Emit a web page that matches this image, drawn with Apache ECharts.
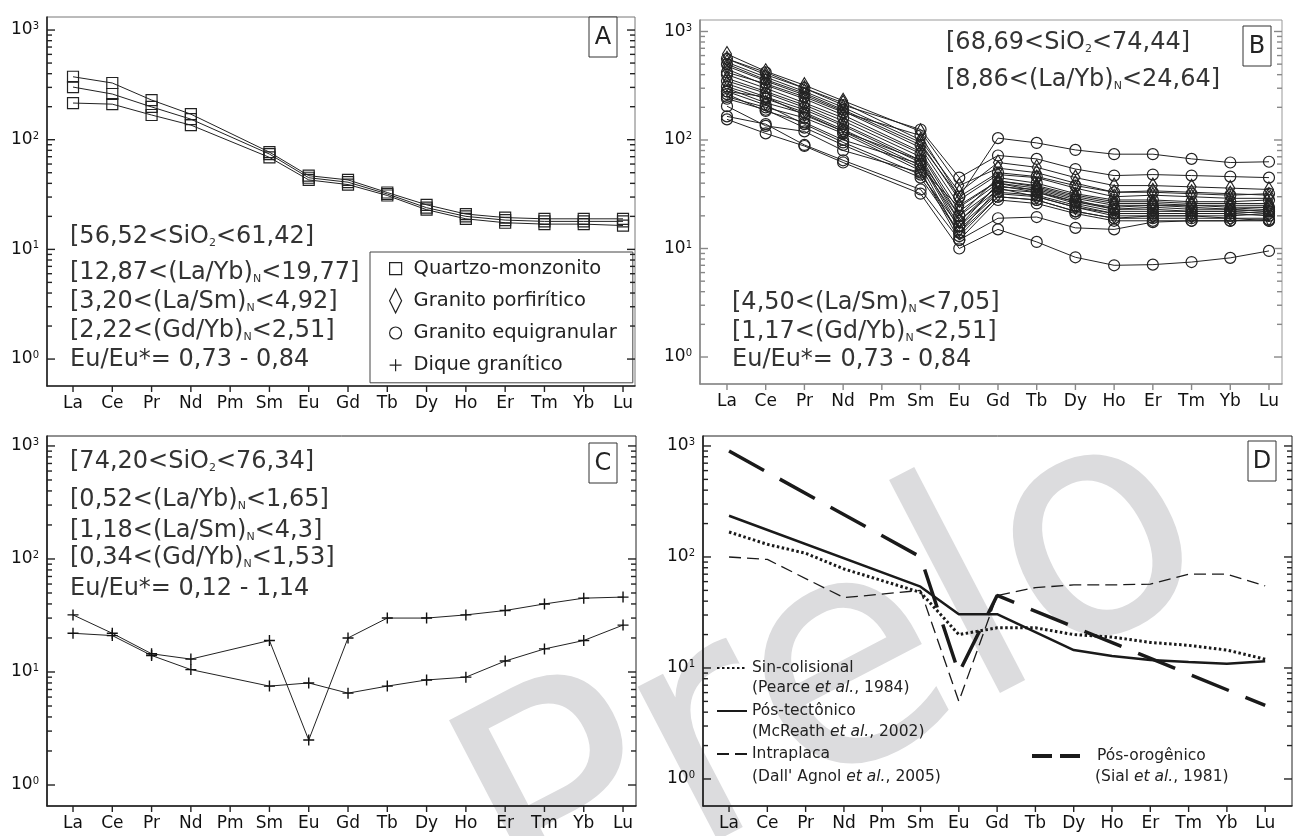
<!DOCTYPE html>
<html>
<head>
<meta charset="utf-8">
<script src="https://cdn.jsdelivr.net/npm/echarts@6/dist/echarts.min.js"></script>
<style>
html, body { margin: 0; padding: 0; background: #fff; }
#main { width: 1308px; height: 836px; }
</style>
</head>
<body>
<div id="main"></div>
<script>
var FONT = 'DejaVu Sans';

// rare earth elements on the x axis
var elements = ['La', 'Ce', 'Pr', 'Nd', 'Pm', 'Sm', 'Eu', 'Gd', 'Tb', 'Dy', 'Ho', 'Er', 'Tm', 'Yb', 'Lu'];
var elementTicks = elements.map(function (e, i) { return i; });
var majorTicks = [1, 10, 100, 1000];
var minorTicks = [2, 3, 4, 5, 6, 7, 8, 9, 20, 30, 40, 50, 60, 70, 80, 90, 200, 300, 400, 500, 600, 700, 800, 900];

// A - quartzo-monzonito
var quartzoMonzonito = [
  [375, 329, 230, 171, null, 77, 47, 43, 33, 25.5, 21, 19.5, 19, 19, 19],
  [302, 261, 199, 154, null, 74, 45, 41, 32, 24, 20, 18.5, 18, 18, 18],
  [216, 211, 168, 136, null, 69, 43, 39, 31, 23, 19, 17.5, 17, 17, 16.5]
];

// B - granito porfiritico (diamonds) and granito equigranular (circles)
var granitoPorfiritico = [
  [620, 430, 320, 230, null, 120, 38, 55, 50, 40, 33, 34, 33, 32, 31],
  [560, 400, 300, 220, null, 100, 33, 62, 56, 45, 38, 38, 37, 36, 35],
  [520, 380, 280, 200, null, 95, 28, 48, 45, 36, 30, 31, 30, 29, 29],
  [480, 350, 260, 185, null, 85, 25, 42, 38, 31, 27, 27, 26, 26, 26],
  [450, 320, 240, 170, null, 78, 22, 40, 36, 29, 25, 25, 25, 24, 24],
  [370, 280, 210, 150, null, 70, 18, 35, 33, 26, 22, 22, 22, 22, 21],
  [330, 250, 190, 135, null, 62, 15, 32, 30, 24, 20, 20, 20, 19, 19],
  [300, 220, 175, 120, null, 55, 24, 42, 37, 30, 26, 26, 25, 25, 25]
];
var granitoEquigranular = [
  [420, 330, 250, 180, null, 110, 30, 104, 94, 81, 74, 74, 67, 62, 63],
  [560, 420, 300, 210, null, 125, 45, 72, 67, 54, 47, 48, 47, 46, 45],
  [155, 115, 88, 62, null, 32, 10, 15, 11.5, 8.3, 7, 7.1, 7.5, 8.2, 9.5],
  [165, 140, 90, 65, null, 35, 12, 19, 19.5, 15.5, 15, 17.5, 18, 18, 18.5],
  [205, 135, 120, 80, null, 50, 14, 30, 28, 22, 19, 20, 20, 20, 21],
  [265, 185, 145, 100, null, 60, 18, 38, 33, 27, 24, 25, 24, 23, 24],
  [280, 250, 170, 120, null, 65, 20, 45, 40, 32, 28, 28, 27, 27, 28],
  [400, 300, 220, 160, null, 75, 20, 37, 35, 28, 23, 24, 23, 23, 22],
  [350, 270, 200, 140, null, 65, 16, 33, 31, 25, 21, 21, 21, 21, 20],
  [310, 240, 180, 125, null, 58, 13, 30, 28, 22, 19, 19, 19, 19, 18],
  [250, 200, 160, 115, null, 52, 12, 28, 26, 21, 18, 18, 18, 18, 18],
  [500, 360, 270, 190, null, 90, 30, 50, 46, 38, 33, 33, 32, 31, 32],
  [280, 210, 140, 95, null, 48, 16, 40, 34, 27, 23, 23, 22, 22, 23],
  [240, 190, 130, 90, null, 45, 14, 36, 30, 24, 21, 21, 21, 21, 22]
];

// C - dique granitico
var diqueGranitico = [
  [32, 22, 14.5, 13, null, 19, 2.5, 20, 30, 30, 32, 35, 40, 45, 46],
  [22, 21, 14, 10.5, null, 7.5, 8, 6.5, 7.5, 8.5, 9, 12.5, 16, 19, 26]
];

// D - reference patterns
var sinColisional = [168, 130, 108, 78, null, 48, 20, 23, 23, 20, 19, 17, 16, 14.5, 12];
var posTectonico = [235, null, null, null, null, 54, 30.5, 30.5, null, 14.5, 12.8, 11.8, 11.3, 10.9, 11.5];
var intraplaca = [100, 95, null, 43, null, 50, 5, 45, 53, 56, 56, 57, 70, 70, 55];
var posOrogenico = [900, null, null, null, null, 100, 9, 45, null, null, null, null, null, null, 4.6];

var notesA = ['[56,52<SiO{s|2}<61,42]', '[12,87<(La/Yb){s|N}<19,77]', '[3,20<(La/Sm){s|N}<4,92]', '[2,22<(Gd/Yb){s|N}<2,51]', 'Eu/Eu*= 0,73 - 0,84'];
var notesBTop = ['[68,69<SiO{s|2}<74,44]', '[8,86<(La/Yb){s|N}<24,64]'];
var notesBBottom = ['[4,50<(La/Sm){s|N}<7,05]', '[1,17<(Gd/Yb){s|N}<2,51]', 'Eu/Eu*= 0,73 - 0,84'];
var notesC = ['[74,20<SiO{s|2}<76,34]', '[0,52<(La/Yb){s|N}<1,65]', '[1,18<(La/Sm){s|N}<4,3]', '[0,34<(Gd/Yb){s|N}<1,53]', 'Eu/Eu*= 0,12 - 1,14'];
var refsD = ['(Pearce {i|et al.}, 1984)', '(McReath {i|et al.}, 2002)', "(Dall' Agnol {i|et al.}, 2005)", '(Sial {i|et al.}, 1981)'];

var chart = echarts.init(document.getElementById('main'));

// panel boxes: left, top, width, height, x range, y range, frame colour
var panels = [
  { rect: [47, 17, 588, 369], x: [-0.662, 14.305], y: [0.568, 1315], frame: '#777', axis: '#222' },
  { rect: [700, 20, 582, 364], x: [-0.697, 14.336], y: [0.564, 1276], frame: '#999', axis: '#888' },
  { rect: [47, 436, 589, 370], x: [-0.662, 14.33], y: [0.652, 1225], frame: '#222', axis: '#222' },
  { rect: [703, 436, 589, 370], x: [-0.68, 14.7], y: [0.571, 1230], frame: '#222', axis: '#222' }
];

var grids = [], xAxes = [], yAxes = [], series = [];

panels.forEach(function (p, gi) {
  grids.push({
    left: p.rect[0], top: p.rect[1], width: p.rect[2], height: p.rect[3],
    show: true, borderColor: p.frame, borderWidth: 1
  });
  xAxes.push({
    gridIndex: gi, type: 'value', min: p.x[0], max: p.x[1],
    axisLine: { show: true, onZero: false, lineStyle: { color: p.axis, width: 1.6 } },
    axisTick: { show: false },
    axisLabel: {
      customValues: elementTicks, margin: 9, color: '#111', fontSize: 17, fontFamily: FONT,
      formatter: function (v) { return elements[Math.round(v)]; }
    },
    splitLine: { show: false }
  });
  yAxes.push({
    gridIndex: gi, type: 'log', logBase: 10, min: p.y[0], max: p.y[1], position: 'left',
    splitLine: { show: false },
    axisLine: { show: true, onZero: false, lineStyle: { color: p.axis, width: 1.6 } },
    axisTick: { show: false },
    axisLabel: {
      show: true, customValues: majorTicks, margin: 8, color: '#111', fontSize: 17, fontFamily: FONT,
      formatter: function (v) { return '10{e|' + Math.round(Math.log(v) / Math.LN10) + '}'; },
      rich: { e: { fontSize: 10, fontFamily: FONT, color: '#111', verticalAlign: 'top', padding: [0, 0, 6, 0] } }
    }
  });

  // tick marks on both vertical edges (pointing in) and under the bottom edge
  var yTicks = majorTicks.map(function (v) { return [0, v, 8]; })
    .concat(minorTicks.map(function (v) { return [0, v, 5]; }));
  series.push({
    type: 'custom', xAxisIndex: gi, yAxisIndex: gi, silent: true, clip: false, z: 10,
    data: yTicks,
    renderItem: function (params, api) {
      var cs = params.coordSys;
      var y = api.coord([0, api.value(1)])[1];
      var len = api.value(2);
      var st = { stroke: p.axis, lineWidth: 1.4 };
      return {
        type: 'group', children: [
          { type: 'line', shape: { x1: cs.x, y1: y, x2: cs.x + len, y2: y }, style: st },
          { type: 'line', shape: { x1: cs.x + cs.width, y1: y, x2: cs.x + cs.width - len, y2: y }, style: st }
        ]
      };
    }
  });
  series.push({
    type: 'custom', xAxisIndex: gi, yAxisIndex: gi, silent: true, clip: false, z: 10,
    data: elementTicks.map(function (i) { return [i, 1]; }),
    renderItem: function (params, api) {
      var cs = params.coordSys;
      var x = api.coord([api.value(0), 1])[0];
      var yb = cs.y + cs.height;
      return { type: 'line', shape: { x1: x, y1: yb, x2: x, y2: yb + 6 }, style: { stroke: p.axis, lineWidth: 1.4 } };
    }
  });
});

function pairs(vals) {
  var out = [];
  vals.forEach(function (v, i) { if (v != null) out.push([i, v]); });
  return out;
}

var hollow = { color: 'rgba(0,0,0,0)', borderColor: '#222', borderWidth: 1.2 };

function sampleSeries(gi, name, vals, symbol, size) {
  return {
    type: 'line', name: name, xAxisIndex: gi, yAxisIndex: gi, data: pairs(vals),
    symbol: symbol, symbolSize: size, showAllSymbol: true,
    lineStyle: { color: '#222', width: 1 }, itemStyle: hollow,
    emphasis: { disabled: true }, z: 3
  };
}

quartzoMonzonito.forEach(function (v) { series.push(sampleSeries(0, 'Quartzo-monzonito', v, 'rect', 11)); });
granitoPorfiritico.forEach(function (v) { series.push(sampleSeries(1, 'Granito porfirítico', v, 'diamond', [9, 15])); });
granitoEquigranular.forEach(function (v) { series.push(sampleSeries(1, 'Granito equigranular', v, 'circle', 11)); });
diqueGranitico.forEach(function (v) {
  var s = sampleSeries(2, 'Dique granítico', v, 'path://M5,0V10M0,5H10', 11);
  s.itemStyle = { color: 'rgba(0,0,0,0)', borderColor: '#111', borderWidth: 1.4 };
  series.push(s);
});

function refSeries(name, vals, width, dash) {
  return {
    type: 'line', name: name, xAxisIndex: 3, yAxisIndex: 3, data: pairs(vals),
    symbol: 'none', lineStyle: { color: '#1a1a1a', width: width, type: dash },
    emphasis: { disabled: true }, z: 3
  };
}
series.push(refSeries('Sin-colisional', sinColisional, 3, [2.5, 2.5]));
series.push(refSeries('Pós-tectônico', posTectonico, 2.5, 'solid'));
series.push(refSeries('Intraplaca', intraplaca, 1.3, [12, 6]));
series.push(refSeries('Pós-orogênico', posOrogenico, 3.5, [40, 18]));

var pad = 'M0,0M16,24';
var legendIcons = {
  'Quartzo-monzonito': 'path://' + pad + 'M2,6H14V18H2Z',
  'Granito porfirítico': 'path://' + pad + 'M8,0L14,12L8,24L2,12Z',
  'Granito equigranular': 'path://' + pad + 'M14,12A6,6,0,1,1,2,12A6,6,0,1,1,14,12Z',
  'Dique granítico': 'path://' + pad + 'M8,6V18M2,12H14'
};

var legends = [
  {
    orient: 'vertical', left: 370, top: 252, itemWidth: 16, itemHeight: 24, itemGap: 7,
    padding: [4, 16, 5, 17], borderColor: '#444', borderWidth: 1, backgroundColor: '#fff',
    selectedMode: false,
    itemStyle: { color: 'rgba(0,0,0,0)', borderColor: '#222', borderWidth: 1.2 },
    textStyle: { fontSize: 19.5, color: '#222', fontFamily: FONT, padding: [0, 0, 0, 5] },
    data: Object.keys(legendIcons).map(function (n) { return { name: n, icon: legendIcons[n] }; })
  },
  {
    orient: 'vertical', left: 716, top: 660, itemWidth: 30, itemHeight: 14, itemGap: 27,
    padding: 0, selectedMode: false,
    itemStyle: { color: 'rgba(0,0,0,0)', borderWidth: 0 },
    lineStyle: { type: 'inherit' },
    textStyle: { fontSize: 15.5, color: '#222', fontFamily: FONT },
    data: ['Sin-colisional', 'Pós-tectônico', 'Intraplaca']
  },
  {
    orient: 'vertical', left: 1030, top: 748, itemWidth: 48, itemHeight: 14,
    padding: 0, selectedMode: false,
    itemStyle: { color: 'rgba(0,0,0,0)', borderWidth: 0 },
    lineStyle: { type: [20, 8], width: 4 },
    textStyle: { fontSize: 15.5, color: '#222', fontFamily: FONT, padding: [0, 0, 0, 12] },
    data: ['Pós-orogênico']
  }
];

var graphics = [];

// watermark
graphics.push({
  type: 'text', x: 490, y: 866, rotation: 0.48, z: -1, silent: true,
  style: { text: 'Prelo', fontSize: 316, fontFamily: 'DejaVu Sans', fill: '#dcdcde', align: 'left', verticalAlign: 'middle' }
});

var rich = {
  s: { fontSize: 11, fontFamily: FONT, fill: '#333', verticalAlign: 'bottom' },
  i: { fontSize: 15.5, fontFamily: FONT, fontStyle: 'italic', fill: '#222' }
};

function noteLines(lines, x, ys) {
  lines.forEach(function (t, k) {
    graphics.push({
      type: 'text', x: x, y: ys[k], z: 10, silent: true,
      style: { text: t, rich: rich, fontSize: 24, fontFamily: FONT, fill: '#333', align: 'left', verticalAlign: 'middle' }
    });
  });
}
noteLines(notesA, 70, [237, 273, 302, 331, 360]);
noteLines(notesBTop, 946, [43, 80]);
noteLines(notesBBottom, 732, [303, 332, 360]);
noteLines(notesC, 70, [462, 500, 531, 558, 589]);

[[752, 688], [752, 732], [752, 777], [1095, 777]].forEach(function (pos, k) {
  graphics.push({
    type: 'text', x: pos[0], y: pos[1], z: 10, silent: true,
    style: { text: refsD[k], rich: rich, fontSize: 15.5, fontFamily: FONT, fill: '#222', align: 'left', verticalAlign: 'middle' }
  });
});

// panel letters
[['A', 589, 17], ['B', 1243, 26], ['C', 589, 443], ['D', 1248, 441]].forEach(function (b) {
  graphics.push({
    type: 'rect', x: b[1], y: b[2], z: 10, silent: true,
    shape: { x: 0, y: 0, width: 28, height: 40 },
    style: { fill: '#fff', stroke: '#333', lineWidth: 1 }
  });
  graphics.push({
    type: 'text', x: b[1] + 14, y: b[2] + 21, z: 11, silent: true,
    style: { text: b[0], fontSize: 24, fontFamily: FONT, fill: '#222', align: 'center', verticalAlign: 'middle' }
  });
});

chart.setOption({
  animation: false,
  backgroundColor: '#fff',
  textStyle: { fontFamily: FONT },
  tooltip: { show: false },
  grid: grids,
  xAxis: xAxes,
  yAxis: yAxes,
  legend: legends,
  graphic: graphics,
  series: series
});
window.onresize = chart.resize;
</script>
</body>
</html>
